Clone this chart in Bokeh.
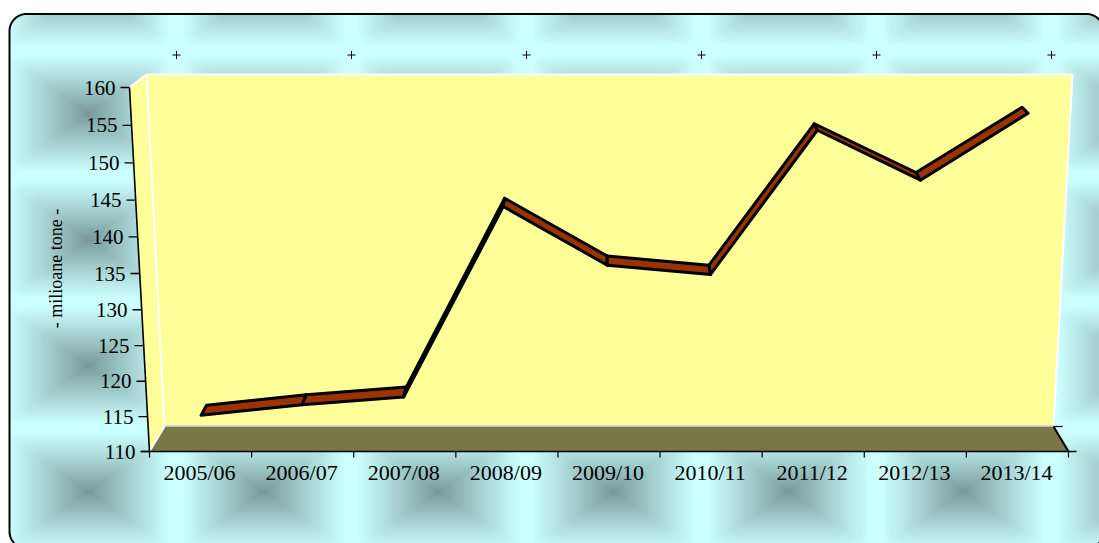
import numpy as np
from bokeh.plotting import figure
from bokeh.core.properties import value
from bokeh.embed import file_html
from bokeh.resources import INLINE

# ---- chart data
categories = ["2005/06", "2006/07", "2007/08", "2008/09", "2009/10",
              "2010/11", "2011/12", "2012/13", "2013/14"]
production = [114.1, 115.6, 116.7, 143.3, 135.2, 133.9, 153.7, 146.9, 156.0]
y_ticks = [110, 115, 120, 125, 130, 135, 140, 145, 150, 155, 160]
y_title = "- milioane tone -"

W, H = 1099, 543
OX, OY = 0, 0
SERIF = value("Liberation Serif")
YELLOW, FLOOR, BROWN = "#FFFF99", "#7A7648", "#993300"
VMIN, VMAX = y_ticks[0], y_ticks[-1]
N = len(categories)


def project(c, v, d):
    """Chart box to page pixels: c category position, v value, d depth 0..1."""
    c, v, d = np.broadcast_arrays(np.asarray(c, float), np.asarray(v, float), np.asarray(d, float))
    t = (v - VMIN) / (VMAX - VMIN)
    y_front = 451 - 348 * t - 16 * t * t
    y_back = 426 - 352 * t
    xl_front, xr_front = 149 - 20 * t, 1068 + 21 * t
    xl_back, xr_back = 164 - 18 * t, 1053 + 19 * t
    xl = xl_front + (xl_back - xl_front) * d
    xr = xr_front + (xr_back - xr_front) * d
    return xl + (xr - xl) * c / N, y_front + (y_back - y_front) * d


p = figure(width=W, height=H, x_range=(OX, OX + W), y_range=(OY + H, OY),
           output_backend="svg", toolbar_location=None, min_border=0,
           background_fill_color="white", border_fill_color="white",
           outline_line_color=None, x_axis_type=None, y_axis_type=None)
p.grid.visible = False

# ---- tiled pyramid background, clipped to a rounded panel
BX0, BY0, BX1, BY1, BR = 9.0, 13.5, 1103.0, 548.0, 17.0
px, py = np.meshgrid(OX + np.arange(W) + .5, OY + np.arange(H) + .5)
TW, TH = 175.0, 126.0
dx = np.abs(((px - 88 + TW / 2) % TW) - TW / 2) / (TW / 2)
dy = np.abs(((py - 113 + TH / 2) % TH) - TH / 2) / (TH / 2)
s = np.clip((dx ** 16 + dy ** 16) ** (1 / 16) / 0.92, 0, 1) ** 0.9
dark, light = np.array([0x78, 0x98, 0x9A]), np.array([0xCC, 0xFF, 0xFF])
rgb = dark[None, None, :] + (light - dark)[None, None, :] * s[..., None]
qx = np.abs(px - (BX0 + BX1) / 2) - ((BX1 - BX0) / 2 - BR)
qy = np.abs(py - (BY0 + BY1) / 2) - ((BY1 - BY0) / 2 - BR)
sdf = np.hypot(np.maximum(qx, 0), np.maximum(qy, 0)) + np.minimum(np.maximum(qx, qy), 0) - BR
alpha = np.clip(.5 - sdf, 0, 1) * 255
rgba = np.dstack([rgb, alpha]).astype(np.uint8)
packed = rgba.view(np.uint32).reshape(H, W).copy()
p.image_rgba(image=[packed], x=OX, y=OY, dw=W, dh=H)

a = np.linspace(0, np.pi / 2, 16)
bx = np.r_[BX0 + BR - BR * np.cos(a), BX1 - BR + BR * np.sin(a),
           BX1 - BR + BR * np.cos(a), BX0 + BR - BR * np.sin(a), BX0]
by = np.r_[BY0 + BR - BR * np.sin(a), BY0 + BR - BR * np.cos(a),
           BY1 - BR + BR * np.sin(a), BY1 - BR + BR * np.cos(a), BY0 + BR]
p.line(bx, by, line_color="black", line_width=2)

# ---- small marks above the box
p.scatter(x=176 + 175 * np.arange(6), y=np.full(6, 54.5), marker="cross", size=8,
          line_color="black", line_width=1)

# ---- box walls
def corner(c, v, d):
    x, y = project(c, v, d)
    return float(x), float(y)

A = corner(0, VMIN, 0); B = corner(0, VMAX, 0)
C = corner(0, VMAX, 1); D = corner(0, VMIN, 1)
E = corner(N, VMAX, 1); F = corner(N, VMIN, 1); G = corner(N, VMIN, 0)

def poly(pts, **kw):
    p.patch([q[0] for q in pts], [q[1] for q in pts], **kw)

poly([C, E, F, D], fill_color=YELLOW, line_color=None)
poly([B, C, D, A], fill_color=YELLOW, line_color=None)
poly([A, D, F, G], fill_color=FLOOR, line_color=None)
for seg in ([B, C], [C, E], [C, D], [E, F], [A, D]):
    p.line([seg[0][0], seg[1][0]], [seg[0][1], seg[1][1]], line_color="white", line_width=2)
p.line([D[0], F[0]], [D[1] - 1, F[1] - 1], line_color="#DDDDCC", line_width=1.5)

# ---- ribbon series
cat_pos = np.arange(N) + .5
x0, y0 = project(cat_pos - .02, production, .3)
x1, y1 = project(cat_pos - .02, production, .7)
xs = [[x0[i], x0[i + 1], x1[i + 1], x1[i]] for i in range(N - 1)]
ys = [[y0[i], y0[i + 1], y1[i + 1], y1[i]] for i in range(N - 1)]
p.patches(xs, ys, fill_color=BROWN, line_color="black", line_width=3, line_join="round")

# ---- value axis
ax, ay = project(0, np.array([VMAX, VMIN]), 0)
p.line(ax, ay, line_color="black", line_width=1.6)
tx, ty = project(0, y_ticks, 0)
p.segment(tx - 9, ty, tx, ty, line_color="black", line_width=1.3)
p.text(x=tx - 14, y=ty, text=[str(v) for v in y_ticks], text_font=SERIF,
       text_font_size="21px", text_align="right", text_baseline="middle", text_color="black")
p.text(x=[55], y=[268], text=[y_title], text_font=SERIF, text_font_size="18px", angle=np.pi / 2,
       text_align="center", text_baseline="middle", text_color="black")

# ---- category axis
ex, ey = project(np.arange(N + 1), VMIN, 0)
p.line([ex[0] - 8, ex[-1] + 8], [ey[0], ey[0]], line_color="black", line_width=1.4)
p.segment(ex, ey, ex, ey + 6, line_color="black", line_width=1.2)
lx, ly = project(cat_pos, VMIN, 0)
p.text(x=lx - 1, y=ly + 21, text=categories, text_font=SERIF, text_font_size="22px",
       text_align="center", text_baseline="middle", text_color="black")
p.line([F[0], G[0]], [F[1], G[1]], line_color="black", line_width=2)
p.line([F[0], F[0] + 9], [F[1], F[1]], line_color="black", line_width=1.2)

open("out.html", "w").write(file_html(p, INLINE))
